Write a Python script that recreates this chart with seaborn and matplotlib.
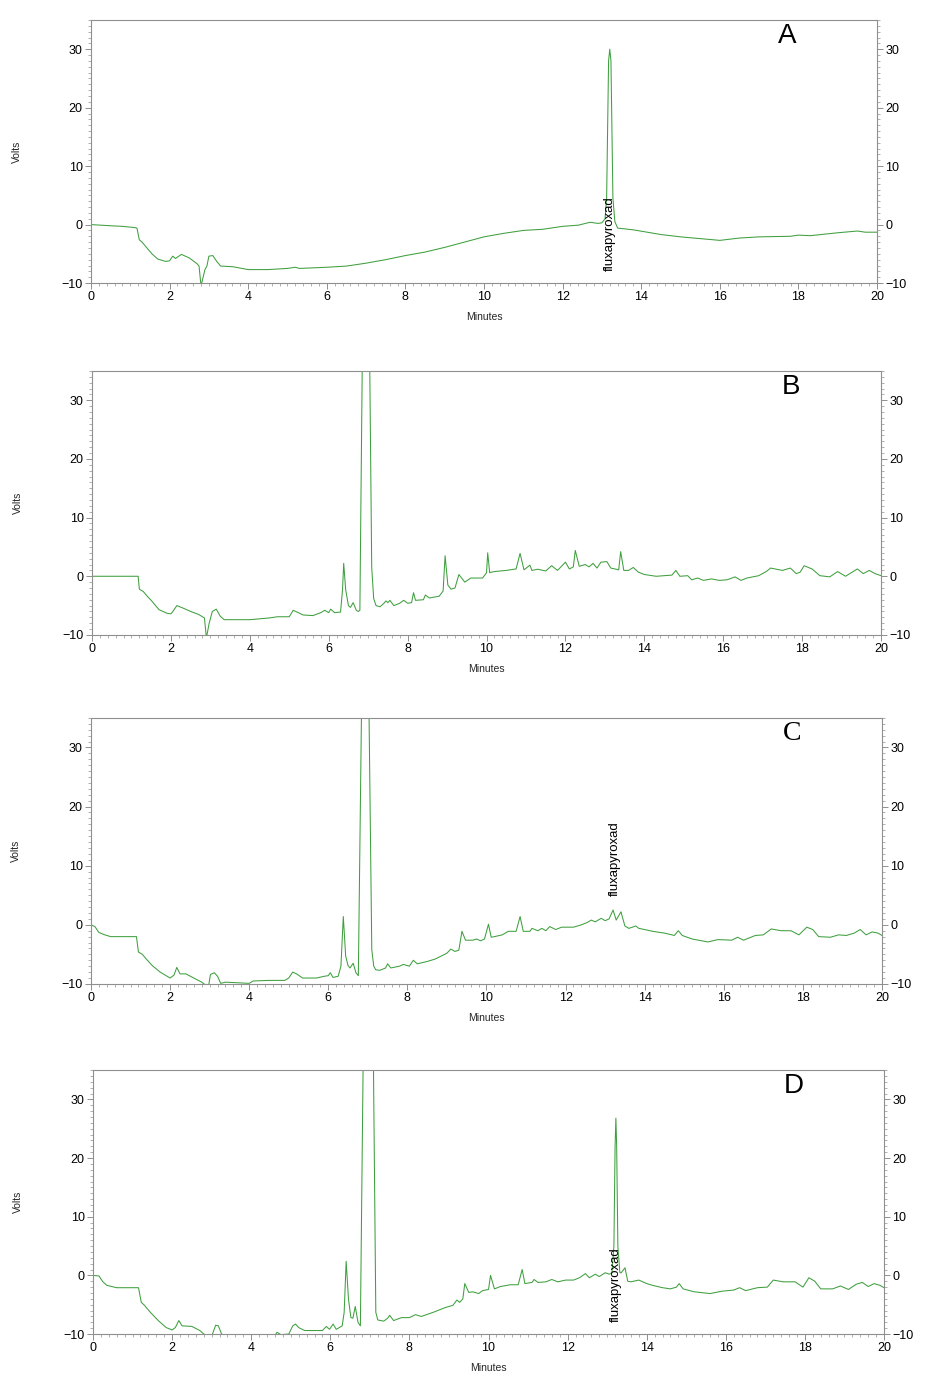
import numpy as np
import pandas as pd
import matplotlib
matplotlib.use("Agg")
import matplotlib.pyplot as plt
import matplotlib.ticker as mtick
import seaborn as sns

sns.set_theme(style="white")
plt.rcParams['font.family'] = ['Liberation Sans', 'DejaVu Sans']
GREEN = '#3f9f3f'
SPINE = '#8f8f8f'

# ---- data (minutes, volts) ----
A_t = [0, 0.5, 0.8, 1.1, 1.17, 1.23, 1.3, 1.4, 1.55, 1.7, 1.9, 2.0, 2.08, 2.15, 2.3, 2.5, 2.7, 2.75, 2.8, 2.9,
       2.95, 3.0, 3.1, 3.2, 3.3, 3.6, 4.0, 4.5, 5.0, 5.2, 5.3, 6.0, 6.5, 7.0, 7.5, 8.0, 8.5, 9.0, 9.5, 10.0,
       10.5, 11.0, 11.5, 12.0, 12.4, 12.7, 12.9, 13.0, 13.08, 13.12, 13.17, 13.2, 13.23, 13.28, 13.33, 13.4,
       13.8, 14.5, 15.0, 15.5, 16.0, 16.5, 17.0, 17.8, 18.0, 18.3, 19.0, 19.5, 19.7, 20.0]
A_v = [0, -0.2, -0.3, -0.5, -0.6, -2.6, -3.0, -3.8, -5.0, -5.9, -6.3, -6.2, -5.4, -5.8, -5.1, -5.7, -6.7, -7.1, -10.5, -7.7,
       -7.1, -5.4, -5.3, -6.3, -7.1, -7.2, -7.7, -7.7, -7.5, -7.3, -7.5, -7.3, -7.1, -6.6, -6.0, -5.3, -4.7, -3.9, -3.0, -2.1,
       -1.5, -1.0, -0.8, -0.3, -0.1, 0.4, 0.2, 0.3, 1.0, 4.5, 28, 30, 28, 4.5, 0.5, -0.6,
       -0.9, -1.7, -2.1, -2.4, -2.7, -2.3, -2.1, -2.0, -1.8, -1.9, -1.4, -1.1, -1.3, -1.3]

B_t = [0, 1.17, 1.2, 1.3, 1.4, 1.5, 1.7, 1.9, 2.0, 2.05, 2.15, 2.3, 2.5, 2.7, 2.85, 2.9, 2.97, 3.05, 3.15, 3.25,
       3.35, 4.0, 4.5, 4.7, 5.0, 5.1, 5.2, 5.35, 5.6, 5.8, 5.9, 6.0, 6.05, 6.15, 6.3, 6.35, 6.38, 6.43, 6.5, 6.55,
       6.62, 6.7, 6.75, 6.79, 6.85, 6.95, 7.04, 7.09, 7.14, 7.2, 7.3, 7.4, 7.45, 7.5, 7.55, 7.65, 7.8, 7.9, 8.0, 8.1,
       8.15, 8.2, 8.4, 8.45, 8.55, 8.8, 8.9, 8.95, 9.02, 9.1, 9.2, 9.3, 9.45, 9.6, 9.9, 10.0, 10.03, 10.08, 10.12, 10.2,
       10.5, 10.75, 10.85, 10.95, 11.1, 11.15, 11.3, 11.5, 11.65, 11.8, 12.0, 12.1, 12.2, 12.25, 12.35, 12.5, 12.6, 12.7, 12.8, 12.9,
       13.05, 13.15, 13.35, 13.4, 13.48, 13.6, 13.72, 13.85, 14.0, 14.3, 14.7, 14.8, 14.9, 15.1, 15.2, 15.35, 15.5, 15.7, 15.9, 16.1,
       16.3, 16.45, 16.6, 16.9, 17.1, 17.2, 17.5, 17.7, 17.85, 17.95, 18.05, 18.25, 18.45, 18.7, 18.9, 19.1, 19.4, 19.55, 19.7, 19.85,
       20.0]
B_v = [0, 0, -2.2, -2.6, -3.4, -4.1, -5.7, -6.3, -6.4, -6.0, -5.0, -5.4, -6.0, -6.5, -7.1, -10.5, -8.0, -6.0, -5.6, -6.8,
       -7.4, -7.4, -7.1, -6.9, -6.9, -5.8, -6.1, -6.6, -6.7, -6.2, -5.8, -6.2, -5.6, -6.2, -6.1, -2.3, 2.2, -2.3, -5.0, -5.3,
       -4.5, -5.8, -6.0, -5.8, 36, 120, 36, 1.5, -3.8, -5.0, -5.2, -4.6, -4.2, -4.5, -4.1, -5.0, -4.6, -4.1, -4.6, -4.5,
       -2.8, -4.1, -4.0, -3.2, -3.7, -3.4, -2.5, 3.5, -1.5, -2.2, -2.0, 0.3, -1.0, -0.3, -0.3, 0.6, 4.0, 0.6, 0.7, 0.8,
       1.0, 1.25, 3.9, 1.1, 1.9, 1.0, 1.2, 0.9, 1.8, 1.0, 2.4, 1.25, 1.6, 4.4, 1.7, 2.0, 1.6, 2.2, 1.4, 2.4,
       2.5, 1.4, 1.1, 4.2, 1.0, 1.0, 1.5, 0.7, 0.3, 0.0, 0.2, 1.0, 0.0, 0.1, -0.6, -0.3, -0.7, -0.45, -0.7, -0.6,
       -0.1, -0.7, -0.3, 0.1, 0.85, 1.4, 1.0, 1.4, 0.45, 0.7, 1.8, 1.25, 0.1, -0.1, 0.8, 0.0, 1.25, 0.45, 1.0, 0.45,
       0.1]

C_t = [0, 0.1, 0.2, 0.35, 0.5, 1.15, 1.2, 1.3, 1.4, 1.55, 1.75, 1.9, 2.0, 2.1, 2.17, 2.25, 2.4, 2.6, 2.8, 2.9,
       2.97, 3.02, 3.12, 3.2, 3.28, 3.4, 3.7, 4.0, 4.1, 4.5, 4.9, 5.0, 5.1, 5.2, 5.35, 5.7, 5.9, 6.0, 6.05, 6.12,
       6.25, 6.32, 6.38, 6.44, 6.5, 6.55, 6.63, 6.7, 6.76, 6.84, 6.94, 7.03, 7.1, 7.15, 7.2, 7.3, 7.45, 7.5, 7.58, 7.8,
       7.9, 8.05, 8.15, 8.25, 8.5, 8.7, 9.0, 9.1, 9.2, 9.3, 9.38, 9.47, 9.65, 9.75, 9.85, 9.95, 10.05, 10.12, 10.2, 10.4,
       10.55, 10.75, 10.85, 10.93, 11.1, 11.15, 11.3, 11.4, 11.5, 11.6, 11.75, 11.9, 12.2, 12.4, 12.55, 12.65, 12.75, 12.9, 13.0, 13.1,
       13.2, 13.28, 13.4, 13.5, 13.6, 13.78, 13.85, 14.0, 14.2, 14.5, 14.75, 14.85, 14.95, 15.2, 15.6, 15.85, 16.2, 16.35, 16.5, 16.8,
       17.0, 17.2, 17.45, 17.7, 17.9, 18.1, 18.25, 18.4, 18.7, 18.9, 19.1, 19.3, 19.45, 19.6, 19.75, 19.9, 20.0]
C_v = [0, -0.3, -1.3, -1.7, -2.0, -2.0, -4.6, -5.0, -5.8, -6.9, -8.0, -8.6, -9.0, -8.5, -7.2, -8.3, -8.3, -9.0, -9.7, -10.2,
       -10.5, -8.4, -8.1, -8.7, -9.9, -9.7, -9.8, -9.9, -9.5, -9.4, -9.4, -9.0, -8.0, -8.3, -9.0, -9.0, -8.7, -8.6, -8.1, -8.9,
       -8.7, -7.0, 1.4, -5.3, -6.9, -7.3, -6.5, -8.1, -8.6, 36, 120, 36, -4.2, -7.0, -7.6, -7.7, -7.3, -6.6, -7.3, -7.0,
       -6.7, -7.0, -6.0, -6.6, -6.2, -5.8, -4.8, -4.1, -4.5, -4.3, -1.1, -2.6, -2.6, -2.4, -2.7, -2.4, 0.1, -2.1, -2.0, -1.7,
       -1.1, -1.1, 1.4, -1.1, -1.1, -0.6, -1.0, -0.6, -1.0, -0.3, -0.8, -0.4, -0.4, 0.0, 0.4, 0.8, 0.5, 1.1, 0.7, 1.0,
       2.5, 0.8, 2.2, -0.2, -0.6, -0.2, -0.6, -0.8, -1.1, -1.4, -1.8, -1.0, -1.8, -2.4, -2.9, -2.5, -2.6, -2.1, -2.6, -1.8,
       -1.7, -0.7, -1.0, -1.0, -1.7, -0.4, -0.8, -2.0, -2.1, -1.7, -1.8, -1.4, -0.8, -1.7, -1.2, -1.4, -1.8]

D_t = [0, 0.15, 0.25, 0.35, 0.6, 1.15, 1.22, 1.3, 1.45, 1.65, 1.85, 2.0, 2.08, 2.17, 2.25, 2.5, 2.7, 2.8, 3.0, 3.02,
       3.1, 3.17, 3.25, 3.3, 4.6, 4.65, 4.75, 4.95, 5.05, 5.12, 5.2, 5.35, 5.8, 5.9, 5.98, 6.07, 6.15, 6.3, 6.35, 6.4,
       6.46, 6.52, 6.57, 6.63, 6.7, 6.76, 6.83, 6.96, 7.09, 7.15, 7.2, 7.35, 7.45, 7.5, 7.6, 7.8, 8.0, 8.15, 8.3, 8.6,
       8.9, 9.1, 9.2, 9.27, 9.35, 9.4, 9.5, 9.6, 9.75, 9.85, 10.0, 10.05, 10.15, 10.3, 10.55, 10.75, 10.85, 10.92, 11.1, 11.15,
       11.25, 11.45, 11.6, 11.75, 11.95, 12.15, 12.3, 12.45, 12.55, 12.7, 12.8, 12.95, 13.05, 13.12, 13.17, 13.2, 13.22, 13.24, 13.27, 13.32,
       13.35, 13.45, 13.52, 13.6, 13.8, 14.0, 14.15, 14.4, 14.6, 14.75, 14.82, 14.92, 15.2, 15.6, 15.9, 16.2, 16.35, 16.5, 16.8, 17.05,
       17.2, 17.45, 17.75, 17.95, 18.1, 18.25, 18.4, 18.7, 18.9, 19.1, 19.3, 19.45, 19.6, 19.75, 19.9, 20.0]
D_v = [0, -0.1, -1.1, -1.7, -2.1, -2.1, -4.6, -5.1, -6.3, -7.7, -8.9, -9.3, -8.9, -7.7, -8.6, -8.7, -9.4, -10.0, -10.5, -10.0,
       -8.5, -8.6, -10.0, -10.3, -10.3, -9.7, -10.1, -10.0, -8.6, -8.3, -8.9, -9.4, -9.4, -8.7, -9.2, -8.3, -9.2, -8.6, -6.3, 2.4,
       -4.1, -7.2, -7.3, -5.3, -8.0, -8.6, 36, 120, 36, -6.3, -7.6, -7.8, -7.3, -6.8, -7.7, -7.2, -7.2, -6.7, -7.0, -6.3,
       -5.5, -5.1, -4.2, -4.6, -4.0, -1.4, -2.9, -2.8, -3.1, -2.6, -2.4, 0.0, -2.3, -1.9, -1.6, -1.6, 1.0, -1.4, -1.2, -0.7,
       -1.2, -1.1, -0.7, -1.1, -0.8, -0.8, -0.4, 0.3, -0.4, 0.2, -0.2, 0.45, 0.2, 0.4, 5, 22, 26.8, 22, 5, 0.5,
       0.4, 1.3, -1.0, -1.1, -0.8, -1.4, -1.7, -2.1, -2.3, -2.0, -1.4, -2.3, -2.8, -3.1, -2.7, -2.5, -2.1, -2.6, -2.1, -2.0,
       -0.8, -1.1, -1.1, -2.0, -0.4, -1.0, -2.3, -2.3, -1.8, -2.4, -1.5, -1.2, -1.9, -1.4, -1.7, -2.1]

PANEL_LETTERS = ['A', 'B', 'C', 'D']
PEAK_NAME = 'fluxapyroxad'
# (minutes, volts) where the peak name sits, None if no label
PEAK_LABEL_POS = [(13.19, -1.5), None, (13.25, 11.2), (13.22, -1.5)]

# ---- layout (figure fractions) ----
AX_RECTS = [[0.0974, 0.7949, 0.8416, 0.1906],
            [0.0985, 0.5399, 0.8448, 0.1913],
            [0.0974, 0.2870, 0.8469, 0.1928],
            [0.0996, 0.0333, 0.8469, 0.1913]]
LETTER_FONTS = ['Liberation Sans', 'Liberation Sans', 'Liberation Serif', 'Liberation Sans']

fig = plt.figure(figsize=(9.34, 13.8), dpi=100)
fig.patch.set_facecolor('white')

series = [(A_t, A_v), (B_t, B_v), (C_t, C_v), (D_t, D_v)]
for i, (t, v) in enumerate(series):
    assert len(t) == len(v), (i, len(t), len(v))
    ax = fig.add_axes(AX_RECTS[i])
    df = pd.DataFrame({'Minutes': t, 'Volts': v})
    sns.lineplot(data=df, x='Minutes', y='Volts', color=GREEN, linewidth=0.75,
                 estimator=None, sort=False, ax=ax)

    ax.set_xlim(0, 20)
    ax.set_ylim(-10, 35)
    ax.set_facecolor('white')
    ax.xaxis.set_major_locator(mtick.MultipleLocator(2))
    ax.xaxis.set_minor_locator(mtick.MultipleLocator(0.2))
    ax.yaxis.set_major_locator(mtick.FixedLocator([-10, 0, 10, 20, 30]))
    ax.yaxis.set_minor_locator(mtick.MultipleLocator(1))
    ax.tick_params(axis='both', which='major', direction='out', length=4, width=0.7,
                   color=SPINE, labelsize=9, labelcolor='black', pad=2)
    ax.tick_params(axis='both', which='minor', direction='out', length=2, width=0.5, color=SPINE)
    ax.tick_params(axis='y', which='both', left=True, right=True, labelleft=True, labelright=True)
    ax.tick_params(axis='x', which='both', bottom=True, top=False)
    for s in ax.spines.values():
        s.set_visible(True)
        s.set_color(SPINE)
        s.set_linewidth(0.8)

    ax.set_xlabel('Minutes', fontsize=7.5)
    ax.set_ylabel('Volts', fontsize=7.5)
    ax.xaxis.set_label_coords(0.5, -0.11)
    ax.yaxis.set_label_coords(-0.088, 0.5)

    ax.text(0.886, 0.94, PANEL_LETTERS[i], transform=ax.transAxes, ha='center', va='center',
            fontsize=20, family=LETTER_FONTS[i], color='black')

    if PEAK_LABEL_POS[i] is not None:
        px, py = PEAK_LABEL_POS[i]
        ax.text(px, py, PEAK_NAME, rotation=90, ha='center', va='center',
                fontsize=9.5, color='black', zorder=5)

fig.savefig('out.png', dpi=100, facecolor='white')
